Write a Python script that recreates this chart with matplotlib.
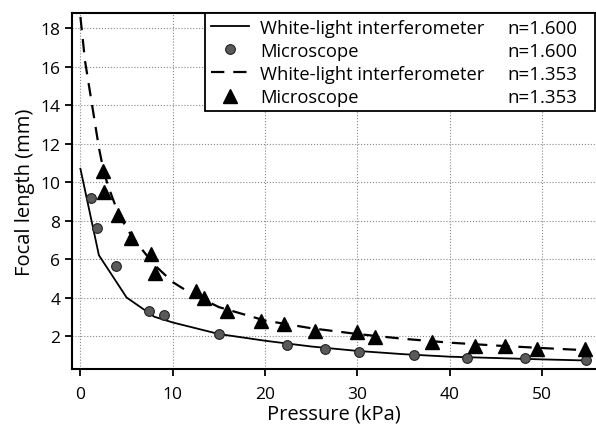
import matplotlib
matplotlib.use('Agg')
import matplotlib.pyplot as plt

plt.rcParams['font.family'] = ['Open Sans', 'DejaVu Sans']

# white-light interferometer curves
wli_x_1600 = [0, 2, 5, 8, 10, 15, 20, 25, 30, 35, 40, 45, 50, 55]
wli_y_1600 = [10.7, 6.2, 4.0, 3.0, 2.7, 2.1, 1.75, 1.45, 1.22, 1.05, 0.92, 0.85, 0.78, 0.72]
wli_x_1353 = [0, 0.5, 1, 1.5, 2, 2.5, 3, 4, 5, 6, 8, 10, 12, 15, 20, 25, 30, 35, 40, 45, 50, 55]
wli_y_1353 = [18.6, 16.3, 14.8, 13.3, 11.8, 10.6, 9.8, 8.5, 7.6, 6.9, 5.7, 4.8, 4.2, 3.5, 2.8, 2.4, 2.1, 1.85, 1.65, 1.5, 1.37, 1.25]

# microscope measurements
mic_x_1600 = [1.1, 1.8, 3.9, 7.4, 9.1, 15.0, 22.4, 26.5, 30.2, 36.1, 41.9, 48.1, 54.8]
mic_y_1600 = [9.2, 7.6, 5.65, 3.3, 3.1, 2.1, 1.54, 1.3, 1.16, 1.02, 0.86, 0.85, 0.75]
mic_x_1353 = [2.4, 2.6, 4.1, 5.5, 7.6, 8.1, 12.5, 13.4, 15.9, 19.6, 22.0, 25.4, 29.9, 31.9, 38.1, 42.7, 46.0, 49.4, 54.6]
mic_y_1353 = [10.6, 9.5, 8.3, 7.1, 6.25, 5.3, 4.35, 3.95, 3.3, 2.8, 2.62, 2.28, 2.2, 1.94, 1.71, 1.47, 1.5, 1.33, 1.3]

labels = ['White-light interferometer', 'Microscope', 'White-light interferometer', 'Microscope']
n_labels = ['n=1.600', 'n=1.600', 'n=1.353', 'n=1.353']

fig = plt.figure(figsize=(5.96, 4.27), dpi=100)
ax = fig.add_axes([0.121, 0.1335, 0.877, 0.8335])

ax.plot(wli_x_1600, wli_y_1600, color='black', lw=1.3, label=labels[0])
ax.plot(mic_x_1600, mic_y_1600, ls='none', marker='o', ms=7,
        mfc='#5a5a5a', mec='#222222', mew=0.8, label=labels[1])
ax.plot(wli_x_1353, wli_y_1353, color='black', lw=1.6, ls=(0, (6, 4)), label=labels[2])
ax.plot(mic_x_1353, mic_y_1353, ls='none', marker='^', ms=10,
        color='black', label=labels[3])

ax.set_xlim(-0.9, 55.7)
ax.set_ylim(0.28, 18.8)
ax.set_xticks([0, 10, 20, 30, 40, 50])
ax.set_yticks([2, 4, 6, 8, 10, 12, 14, 16, 18])
ax.tick_params(direction='out', length=5, width=1.3, labelsize=12.5)
ax.tick_params(axis='x', pad=7)
ax.grid(True, ls=':', color='#888888', lw=0.8)
for s in ['left', 'bottom', 'top']:
    ax.spines[s].set_linewidth(1.5)
ax.spines['right'].set_visible(False)

ax.set_xlabel('Pressure (kPa)', fontsize=14.5, labelpad=1)
ax.set_ylabel('Focal length (mm)', fontsize=14.5, labelpad=4)

leg = ax.legend(loc='upper left', bbox_to_anchor=(0.2545, 0.0, 0.7455, 1.0),
                mode='expand', fontsize=13.2,
                frameon=True, fancybox=False, edgecolor='black', framealpha=1,
                borderpad=0.3, labelspacing=0.28, handlelength=2.1,
                handletextpad=0.6, borderaxespad=0)
leg.get_frame().set_linewidth(1.3)

# right-hand column of refractive index labels inside the legend
fig.canvas.draw()
inv = fig.transFigure.inverted()
for t, nl in zip(leg.get_texts(), n_labels):
    bb = t.get_window_extent()
    xf, yf = inv.transform((0, (bb.y0 + bb.y1) / 2))
    fig.text(0.968, yf, nl, fontsize=13.5, ha='right', va='center')

fig.savefig('out.png', dpi=100)
